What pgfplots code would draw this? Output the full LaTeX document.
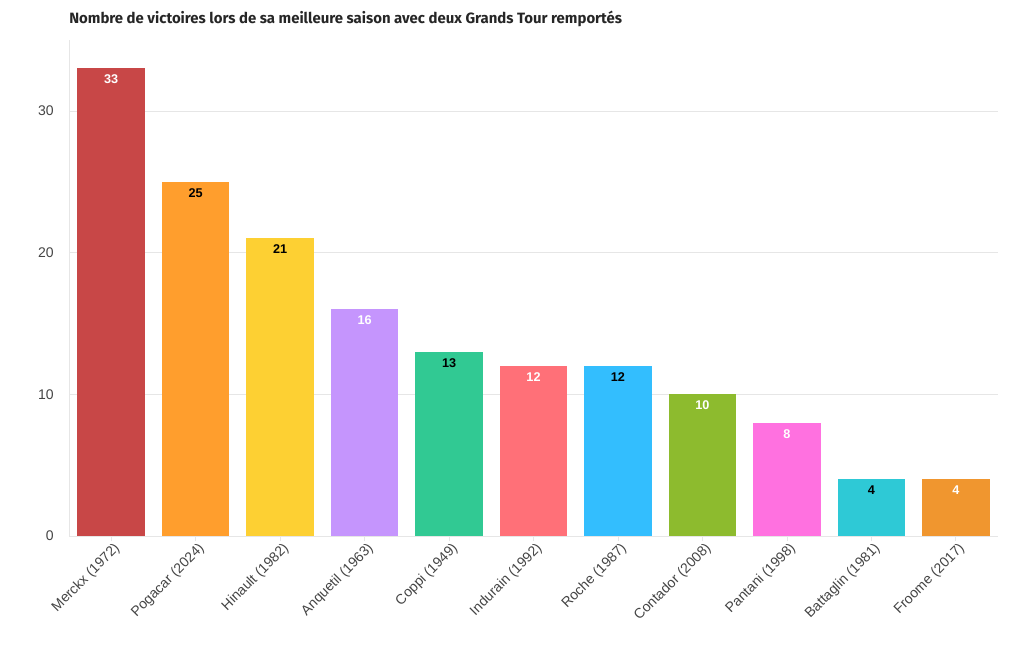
\documentclass[border=0pt]{standalone}
\usepackage{pgfplots}
\pgfplotsset{compat=1.18}
\usepackage{fontspec}
\setmainfont{Liberation Sans}
\newfontfamily\titlefont{Fira Sans}
\definecolor{cA}{HTML}{C84747}
\definecolor{cB}{HTML}{FF9E2D}
\definecolor{cC}{HTML}{FDD033}
\definecolor{cD}{HTML}{C595FD}
\definecolor{cE}{HTML}{31C993}
\definecolor{cF}{HTML}{FF7078}
\definecolor{cG}{HTML}{33BEFE}
\definecolor{cH}{HTML}{8DBB2E}
\definecolor{cI}{HTML}{FF71E0}
\definecolor{cJ}{HTML}{2EC9D6}
\definecolor{cK}{HTML}{F0962F}
\definecolor{gridc}{HTML}{E6E6E6}
\definecolor{labc}{HTML}{444444}
\newcommand{\onebar}[4]{%
  \addplot[fill=#1, draw=none, nodes near coords,
    every node near coord/.append style={anchor=north, yshift=-1.5pt, text=#2, font=\fontsize{9.5}{10}\selectfont\bfseries}]
    coordinates {(#3,#4)};}
\begin{document}
\begin{tikzpicture}
\useasboundingbox (0,0) rectangle (765pt,487.5pt);
\begin{axis}[
  at={(51.75pt,85.5pt)}, anchor=south west,
  width=696.75pt, height=372pt, scale only axis,
  xmin=-0.5, xmax=10.5, ymin=0, ymax=35,
  ybar, bar width=0.8, bar shift=0pt,
  axis line style={draw=gridc},
  axis x line*=bottom, axis y line*=left,
  ytick={0,10,20,30},
  ymajorgrids, grid style={draw=gridc, line width=0.5pt},
  y tick style={draw=none},
  x tick style={draw=gridc, line width=0.5pt},
  tick align=outside, major tick length=4pt,
  xtick={0,...,10},
  xticklabels={Merckx (1972),Pogacar (2024),Hinault (1982),Anquetil (1963),Coppi (1949),Indurain (1992),Roche (1987),Contador (2008),Pantani (1998),Battaglin (1981),Froome (2017)},
  x tick label style={rotate=45, anchor=north east, font=\fontsize{10.5}{12}\selectfont, text=labc, inner sep=1pt, xshift=2pt},
  y tick label style={font=\fontsize{10.5}{12}\selectfont, text=labc, xshift=-4pt},
  /pgf/number format/assume math mode=true,
  title={\titlefont\bfseries Nombre de victoires lors de sa meilleure saison avec deux Grands Tour remportés},
  title style={at={(rel axis cs:0,1)}, anchor=base west, yshift=6pt, font=\fontsize{11.2}{13}\selectfont, text=black!85, inner sep=0pt},
  clip=false,
]
\onebar{cA}{white}{0}{33}
\onebar{cB}{black}{1}{25}
\onebar{cC}{black}{2}{21}
\onebar{cD}{white}{3}{16}
\onebar{cE}{black}{4}{13}
\onebar{cF}{white}{5}{12}
\onebar{cG}{black}{6}{12}
\onebar{cH}{white}{7}{10}
\onebar{cI}{white}{8}{8}
\onebar{cJ}{black}{9}{4}
\onebar{cK}{white}{10}{4}
\end{axis}
\end{tikzpicture}
\end{document}
